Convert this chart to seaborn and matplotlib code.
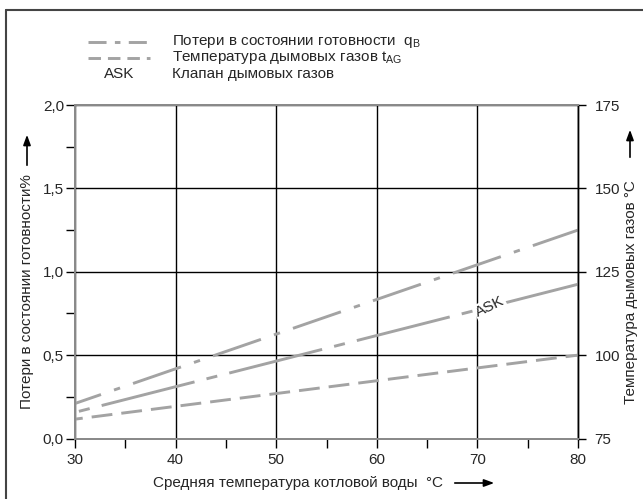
import numpy as np
import pandas as pd
import matplotlib
matplotlib.use("Agg")
import matplotlib.pyplot as plt
import seaborn as sns
from matplotlib.lines import Line2D
from matplotlib.ticker import MultipleLocator, FuncFormatter

# values
water_temp = [30, 80]
standby_loss = [0.21, 1.25]        # q_B, %
standby_loss_ask = [0.157, 0.925]  # q_B with flue gas valve, %
flue_gas_temp = [80.8, 100.0]      # t_AG, °C

x_ticks = [30, 40, 50, 60, 70, 80]
left_ticks = [0.0, 0.5, 1.0, 1.5, 2.0]
right_ticks = [75, 100, 125, 150, 175]

legend_rows = ["Потери в состоянии готовности  q$_\\mathregular{B}$",
               "Температура дымовых газов t$_\\mathregular{AG}$",
               "Клапан дымовых газов"]

sns.set_style("white")
plt.rcParams["font.family"] = ["Liberation Sans", "DejaVu Sans"]
plt.rcParams["mathtext.fontset"] = "custom"
plt.rcParams["mathtext.rm"] = "Liberation Sans"
plt.rcParams["lines.scale_dashes"] = False

W, H = 643, 499
FS = 11
GRAY = "#a3a3a3"
SPINE = "#8a8a8a"
fig = plt.figure(figsize=(W / 100, H / 100), dpi=100)
ax = fig.add_axes([75 / W, 1 - 438.5 / H, (578 - 75) / W, (438.5 - 105) / H])
ax2 = ax.twinx()

df = pd.DataFrame({"t": water_temp, "q": standby_loss, "ask": standby_loss_ask, "tag": flue_gas_temp})

sns.lineplot(data=df, x="t", y="q", ax=ax, color=GRAY, lw=2.1)
ax.lines[-1].set_linestyle((16.7, (36.5, 9.9, 4.6, 9.9)))
sns.lineplot(data=df, x="t", y="ask", ax=ax, color=GRAY, lw=2.1)
ax.lines[-1].set_linestyle((75.0, (69, 8.9, 8, 8.9)))
sns.lineplot(data=df, x="t", y="tag", ax=ax2, color=GRAY, lw=2.1)
ax2.lines[-1].set_linestyle((9.4, (15, 6.5)))

ax.text(71.25, 0.79, "ASK", rotation=26, ha="center", va="center", fontsize=FS,
        bbox=dict(facecolor="white", edgecolor="none", pad=1.0), zorder=5)

ax.set_xlim(30, 80)
ax.set_ylim(0, 2)
ax2.set_ylim(75, 175)
ax.set_xticks(x_ticks)
ax.set_yticks(left_ticks)
ax2.set_yticks(right_ticks)
ax.xaxis.set_minor_locator(MultipleLocator(5))
ax.yaxis.set_minor_locator(MultipleLocator(0.25))
ax.yaxis.set_major_formatter(FuncFormatter(lambda v, p: f"{v:.1f}".replace(".", ",")))
ax.set_xlabel("")
ax.set_ylabel("")
ax2.set_ylabel("")

ax.set_axisbelow(True)
ax.grid(True, which="major", color="black", lw=1.0)
for a in (ax, ax2):
    for s in ("left", "top", "bottom"):
        a.spines[s].set_color(SPINE)
        a.spines[s].set_linewidth(1.4)
    a.spines["right"].set_color("black")
    a.spines["right"].set_linewidth(1.0)
ax2.grid(False)

ax.tick_params(axis="both", which="both", direction="out", length=6.5, width=1,
               color="black", labelsize=FS, pad=1.5)
ax.tick_params(axis="x", which="both", bottom=True, pad=4)
ax.tick_params(axis="y", which="both", left=True)
ax2.tick_params(axis="y", which="major", right=True, direction="out", length=6, width=1,
                color="black", labelsize=FS, pad=6)

# axis titles with arrows
fig.text(27 / W, 1 - 292 / H, "Потери в состоянии готовности%", rotation=90,
         ha="center", va="center", fontsize=FS)
fig.text(631 / W, 1 - 292 / H, "Температура дымовых газов °C", rotation=90,
         ha="center", va="center", fontsize=FS)
fig.text(298 / W, 1 - 483 / H, "Средняя температура котловой воды  °C",
         ha="center", va="center", fontsize=FS)
arrow = dict(arrowstyle="-|>,head_length=0.6,head_width=0.22", color="black", lw=1.2)
ax.annotate("", xy=(27 / W, 1 - 132 / H), xytext=(27 / W, 1 - 168 / H),
            xycoords="figure fraction", arrowprops=arrow)
ax.annotate("", xy=(630 / W, 1 - 127 / H), xytext=(630 / W, 1 - 160 / H),
            xycoords="figure fraction", arrowprops=arrow)
ax.annotate("", xy=(497 / W, 1 - 483 / H), xytext=(452 / W, 1 - 483 / H),
            xycoords="figure fraction", arrowprops=arrow)

# legend block at the top
rows_y = [41.5, 58, 74]
fig.add_artist(Line2D([88 / W, 150 / W], [1 - rows_y[0] / H] * 2, color=GRAY, lw=2.1,
                      linestyle=(0, (13, 6, 4, 6))))
fig.add_artist(Line2D([88 / W, 150 / W], [1 - rows_y[1] / H] * 2, color=GRAY, lw=2.1,
                      linestyle=(0, (9, 5))))
fig.text(119 / W, 1 - rows_y[2] / H, "ASK", ha="center", va="center", fontsize=FS)
for yy, txt in zip(rows_y, legend_rows):
    fig.text(172 / W, 1 - yy / H, txt, ha="left", va="center", fontsize=FS)

# outer frame (top and left edges visible)
fig.add_artist(Line2D([6 / W, 1.0], [1 - 10 / H] * 2, color="#444444", lw=1.5))
fig.add_artist(Line2D([6 / W, 6 / W], [0, 1 - 10 / H], color="#444444", lw=1.5))

fig.savefig("out.png", dpi=100)
